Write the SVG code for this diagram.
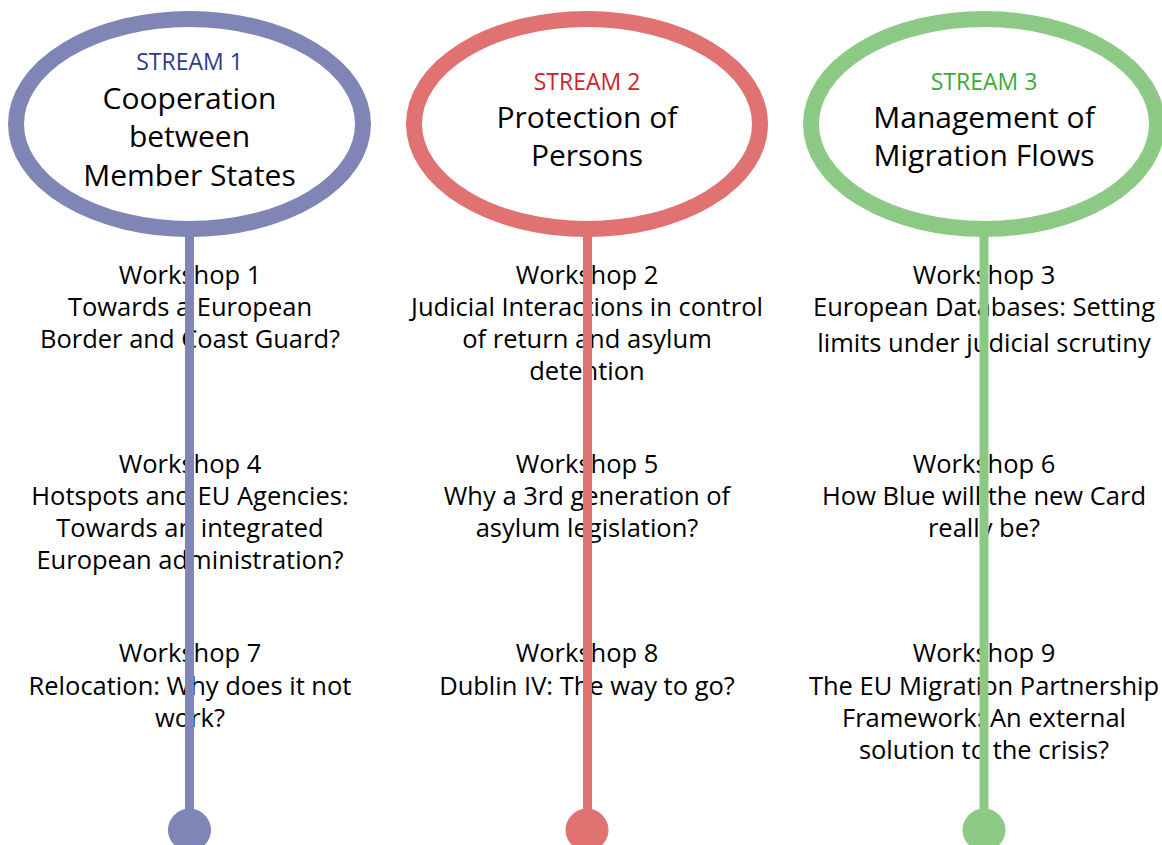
<svg xmlns="http://www.w3.org/2000/svg" width="1162" height="845" viewBox="0 0 1162 845">
<style>
.ell{fill:#fff;stroke-width:16}
.t{font-family:"Open Sans","Noto Sans",sans-serif;font-size:25.5px;fill:#000;text-anchor:middle}
.h{font-family:"Open Sans","Noto Sans",sans-serif;font-size:30px;fill:#000;text-anchor:middle}
.s{font-family:"Open Sans","Noto Sans",sans-serif;font-size:23px;text-anchor:middle}
.c1{stroke:#7F86B5;fill:#7F86B5}
.c2{stroke:#E07272;fill:#E07272}
.c3{stroke:#8CC985;fill:#8CC985}
.ln{stroke-width:9}
</style>
<rect width="1162" height="845" fill="#fff"/>
<g id="stream1">
<ellipse class="ell" cx="189.5" cy="124" rx="173.5" ry="105" stroke="#7F86B5"/>
<text class="s" x="189.5" y="70" fill="#2E3A8C">STREAM 1</text>
<text class="h" x="189.5" y="109">Cooperation</text>
<text class="h" x="189.5" y="147">between</text>
<text class="h" x="189.5" y="186">Member States</text>
</g>
<g id="stream2">
<ellipse class="ell" cx="587" cy="124" rx="173" ry="105" stroke="#E07272"/>
<text class="s" x="587" y="90" fill="#D0212A">STREAM 2</text>
<text class="h" x="587" y="128">Protection of</text>
<text class="h" x="587" y="166">Persons</text>
</g>
<g id="stream3">
<ellipse class="ell" cx="984" cy="124" rx="173" ry="105" stroke="#8CC985"/>
<text class="s" x="984" y="90" fill="#3BAA3B">STREAM 3</text>
<text class="h" x="984" y="128">Management of</text>
<text class="h" x="984" y="166">Migration Flows</text>
</g>
<g id="workshop1"><text class="t" x="190" y="284">Workshop 1</text><text class="t" x="190" y="316">Towards a European</text><text class="t" x="190" y="348">Border and Coast Guard?</text></g>
<g id="workshop4"><text class="t" x="190" y="473">Workshop 4</text><text class="t" x="190" y="505">Hotspots and EU Agencies:</text><text class="t" x="190" y="537">Towards an integrated</text><text class="t" x="190" y="569">European administration?</text></g>
<g id="workshop7"><text class="t" x="190" y="662">Workshop 7</text><text class="t" x="190" y="695">Relocation: Why does it not</text><text class="t" x="190" y="727">work?</text></g>
<g id="workshop2"><text class="t" x="587" y="284">Workshop 2</text><text class="t" x="587" y="316">Judicial Interactions in control</text><text class="t" x="587" y="348">of return and asylum</text><text class="t" x="587" y="380">detention</text></g>
<g id="workshop5"><text class="t" x="587" y="473">Workshop 5</text><text class="t" x="587" y="505">Why a 3rd generation of</text><text class="t" x="587" y="537">asylum legislation?</text></g>
<g id="workshop8"><text class="t" x="587" y="662">Workshop 8</text><text class="t" x="587" y="695">Dublin IV: The way to go?</text></g>
<g id="workshop3"><text class="t" x="984" y="284">Workshop 3</text><text class="t" x="984" y="316">European Databases: Setting</text><text class="t" x="984" y="352">limits under judicial scrutiny</text></g>
<g id="workshop6"><text class="t" x="984" y="473">Workshop 6</text><text class="t" x="984" y="505">How Blue will the new Card</text><text class="t" x="984" y="537">really be?</text></g>
<g id="workshop9"><text class="t" x="984" y="662">Workshop 9</text><text class="t" x="984" y="695">The EU Migration Partnership</text><text class="t" x="984" y="727">Framework: An external</text><text class="t" x="984" y="759">solution to the crisis?</text></g>
<g id="connectors">
<line class="c1 ln" x1="189.5" y1="236" x2="189.5" y2="812"/>
<circle class="c1" cx="189.5" cy="830" r="21" stroke="none"/>
<line class="c2 ln" x1="587.5" y1="236" x2="587.5" y2="812"/>
<circle class="c2" cx="587" cy="830" r="21" stroke="none"/>
<line class="c3 ln" x1="984" y1="236" x2="984" y2="812"/>
<circle class="c3" cx="984" cy="830" r="21" stroke="none"/>
</g>
</svg>
